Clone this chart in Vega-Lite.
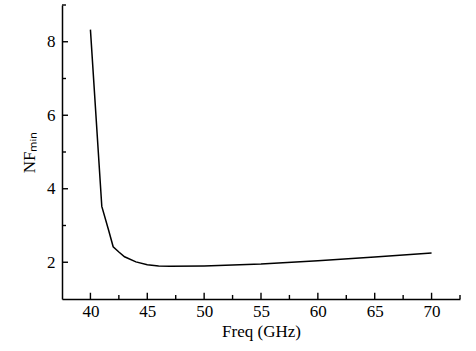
{
  "$schema": "https://vega.github.io/schema/vega-lite/v6.json",
  "width": 398,
  "height": 294,
  "padding": {"left": 62, "top": 5, "right": 16, "bottom": 52},
  "autosize": {"type": "none"},
  "background": "white",
  "config": {
    "view": {"stroke": null},
    "font": "Liberation Serif",
    "axis": {
      "grid": false,
      "ticks": false,
      "domainColor": "black",
      "labelColor": "black",
      "titleColor": "black",
      "labelFont": "Liberation Serif",
      "titleFont": "Liberation Serif",
      "labelFontSize": 17,
      "titleFontSize": 17,
      "titleFontWeight": "normal",
      "domainWidth": 1.5
    }
  },
  "datasets": {
    "curve": [
      {"f": 40, "nf": 8.33},
      {"f": 41, "nf": 3.52},
      {"f": 41.6, "nf": 2.87},
      {"f": 42, "nf": 2.42},
      {"f": 42.5, "nf": 2.28},
      {"f": 43, "nf": 2.15},
      {"f": 44, "nf": 2.01},
      {"f": 45, "nf": 1.93},
      {"f": 46, "nf": 1.9},
      {"f": 47, "nf": 1.89},
      {"f": 50, "nf": 1.9},
      {"f": 55, "nf": 1.95},
      {"f": 60, "nf": 2.04},
      {"f": 65, "nf": 2.14},
      {"f": 70, "nf": 2.25}
    ],
    "xmajor": [{"v": 40}, {"v": 45}, {"v": 50}, {"v": 55}, {"v": 60}, {"v": 65}, {"v": 70}],
    "xminor": [{"v": 42.5}, {"v": 47.5}, {"v": 52.5}, {"v": 57.5}, {"v": 62.5}, {"v": 67.5}, {"v": 72.5}],
    "ymajor": [{"v": 2}, {"v": 4}, {"v": 6}, {"v": 8}],
    "yminor": [{"v": 3}, {"v": 5}, {"v": 7}, {"v": 9}]
  },
  "layer": [
    {
      "data": {"name": "curve"},
      "mark": {"type": "line", "color": "black", "strokeWidth": 1.5},
      "encoding": {
        "x": {
          "field": "f", "type": "quantitative",
          "scale": {"domain": [37.5, 72.5], "nice": false, "zero": false},
          "axis": {
            "title": "Freq (GHz)",
            "values": [40, 45, 50, 55, 60, 65, 70],
            "labelPadding": 4,
            "titlePadding": 4
          }
        },
        "y": {
          "field": "nf", "type": "quantitative",
          "scale": {"domain": [1, 9], "nice": false, "zero": false},
          "axis": {
            "title": "NFₘᵢₙ",
            "values": [2, 4, 6, 8],
            "labelPadding": 7,
            "titlePadding": 8
          }
        }
      }
    },
    {
      "data": {"name": "xmajor"},
      "mark": {"type": "rule", "color": "black", "strokeWidth": 1.4},
      "encoding": {"x": {"field": "v", "type": "quantitative"}, "y": {"datum": 1}, "y2": {"datum": 1.17}}
    },
    {
      "data": {"name": "xminor"},
      "mark": {"type": "rule", "color": "black", "strokeWidth": 1.4},
      "encoding": {"x": {"field": "v", "type": "quantitative"}, "y": {"datum": 1}, "y2": {"datum": 1.11}}
    },
    {
      "data": {"name": "ymajor"},
      "mark": {"type": "rule", "color": "black", "strokeWidth": 1.4},
      "encoding": {"y": {"field": "v", "type": "quantitative"}, "x": {"datum": 37.5}, "x2": {"datum": 38.03}}
    },
    {
      "data": {"name": "yminor"},
      "mark": {"type": "rule", "color": "black", "strokeWidth": 1.4},
      "encoding": {"y": {"field": "v", "type": "quantitative"}, "x": {"datum": 37.5}, "x2": {"datum": 37.85}}
    }
  ]
}
